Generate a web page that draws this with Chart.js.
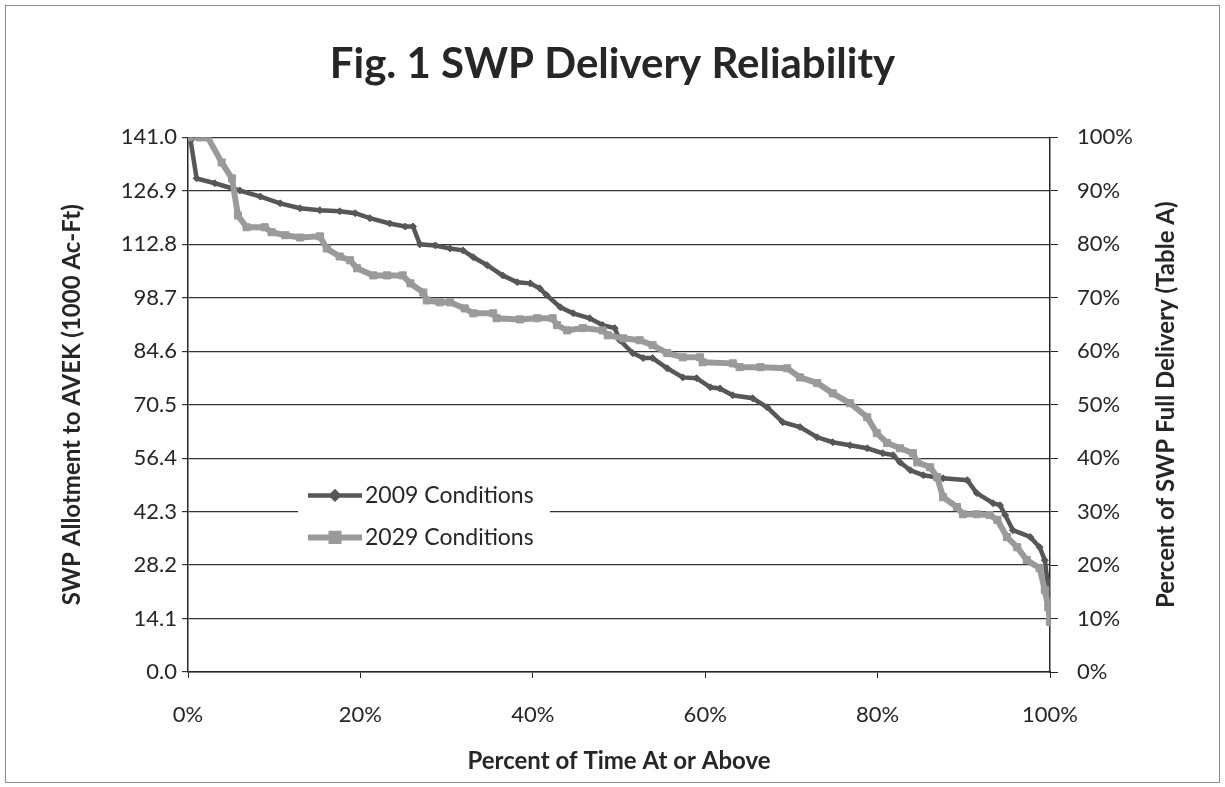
<!DOCTYPE html>
<html>
<head>
<meta charset="utf-8">
<title>Fig. 1 SWP Delivery Reliability</title>
<script src="https://cdn.jsdelivr.net/npm/chart.js@4.4.1/dist/chart.umd.min.js"></script>
<style>
  html, body { margin: 0; padding: 0; background: #fff; }
  #wrap { position: relative; width: 1225px; height: 787px; }
  #frame { position: absolute; left: 5px; top: 5px; width: 1213px; height: 776px; border: 1.5px solid #8c8c8c; pointer-events: none; }
</style>
</head>
<body>
<div id="wrap">
  <canvas id="chart" width="1225" height="787"></canvas>
  <div id="frame"></div>
</div>
<script>
// percent of time at or above (x) and SWP allotment in 1000 Ac-Ft (y)
const pct2009 = [0.3, 1.0, 3.1, 6.0, 8.4, 10.7, 13.0, 15.3, 17.6, 19.4,
  21.1, 23.4, 25.2, 26.1, 26.9, 28.7, 30.4, 31.9, 33.1, 34.7,
  36.5, 38.2, 39.7, 40.8, 41.6, 43.2, 44.7, 46.6, 48.1, 49.5,
  50.1, 51.6, 52.8, 53.9, 55.6, 57.4, 59.0, 60.6, 61.7, 63.2,
  65.5, 67.2, 69.0, 71.0, 73.0, 74.8, 76.8, 78.8, 80.6, 81.8,
  82.6, 83.8, 85.3, 87.6, 90.4, 91.5, 93.4, 94.2, 94.8, 95.7,
  97.7, 98.8, 99.4, 99.7, 100];
const val2009 = [140.2, 130.2, 128.9, 127.0, 125.4, 123.6, 122.3, 121.8, 121.5, 121.0,
  119.7, 118.3, 117.5, 117.5, 112.8, 112.5, 111.7, 111.2, 109.4, 107.3,
  104.6, 102.8, 102.5, 101.2, 99.4, 96.2, 94.6, 93.3, 91.5, 90.7,
  87.5, 84.1, 82.8, 82.8, 80.1, 77.7, 77.5, 75.1, 74.8, 73.0,
  72.2, 69.8, 65.9, 64.6, 61.9, 60.6, 59.8, 59.0, 57.7, 57.2,
  55.3, 53.2, 51.9, 51.1, 50.6, 47.2, 44.5, 44.0, 41.4, 37.4,
  35.6, 32.9, 29.5, 24.0, 13.2];

const pct2029 = [0, 1.4, 2.3, 3.9, 5.1, 5.8, 6.8, 8.9, 9.7, 11.3,
  13.0, 15.3, 16.1, 17.6, 18.8, 19.6, 21.5, 23.1, 24.9, 25.8,
  27.3, 27.7, 29.2, 30.4, 32.1, 33.1, 35.4, 35.8, 38.5, 40.5,
  42.3, 42.8, 44.0, 45.8, 48.1, 48.7, 50.5, 52.4, 53.9, 55.6,
  57.4, 59.4, 59.7, 63.2, 64.0, 66.4, 69.5, 71.0, 73.0, 74.8,
  76.8, 78.8, 79.9, 81.1, 82.6, 84.1, 84.6, 86.1, 86.9, 87.6,
  89.2, 89.9, 91.5, 93.0, 93.9, 95.0, 96.2, 97.3, 98.8, 99.4,
  99.8, 100];
const val2029 = [141.0, 141.0, 141.0, 134.4, 130.2, 120.4, 117.3, 117.3, 116.0, 115.2,
  114.6, 114.9, 111.7, 109.6, 108.6, 106.5, 104.6, 104.6, 104.6, 102.5,
  100.1, 98.0, 97.5, 97.5, 95.9, 94.6, 94.6, 93.3, 93.0, 93.3,
  93.3, 91.5, 90.1, 90.7, 90.1, 88.8, 88.0, 87.5, 86.2, 84.1,
  83.0, 83.0, 81.7, 81.4, 80.4, 80.4, 80.1, 77.7, 76.2, 73.5,
  70.9, 67.2, 63.0, 60.4, 59.0, 57.7, 55.3, 54.0, 51.4, 46.1,
  43.5, 41.6, 41.6, 41.4, 40.1, 35.6, 32.9, 29.5, 27.4, 21.6,
  17.1, 13.2];

const seriesNames = ['2009 Conditions', '2029 Conditions'];
const leftTicks = [0, 14.1, 28.2, 42.3, 56.4, 70.5, 84.6, 98.7, 112.8, 126.9, 141.0];
const rightTicks = [0, 10, 20, 30, 40, 50, 60, 70, 80, 90, 100];
const xTicks = [0, 20, 40, 60, 80, 100];
const rightTitle = 'Percent of SWP Full Delivery (Table A)';

const FONT = 'Lato, "Open Sans", sans-serif';
const INK = '#262626';
const DARK = '#575757';
const LIGHT = '#9a9a9a';

const toPoints = (xs, ys) => xs.map((x, i) => ({ x: x, y: ys[i] }));

// legend sits inside the plot area, like the Excel original;
// the right axis title reads bottom-to-top, so it is drawn here too
const extras = {
    id: 'extras',
    afterDatasetsDraw(chart) {
        const ctx = chart.ctx;
        const area = chart.chartArea;
        const x0 = area.left + 110;
        const y0 = area.top + 338;
        ctx.save();
        ctx.fillStyle = '#fff';
        ctx.fillRect(x0, y0, 252, 82);
        chart.data.datasets.forEach((ds, i) => {
            const y = y0 + 20 + i * 42;
            ctx.strokeStyle = ds.borderColor;
            ctx.lineWidth = ds.borderWidth;
            ctx.beginPath();
            ctx.moveTo(x0 + 10, y);
            ctx.lineTo(x0 + 64, y);
            ctx.stroke();
            Chart.helpers.drawPoint(ctx, {
                pointStyle: ds.pointStyle,
                radius: ds.pointRadius,
                borderWidth: 1
            }, x0 + 37, y);
            ctx.fillStyle = ds.borderColor;
            ctx.fill();
            ctx.fillStyle = INK;
            ctx.font = '23px ' + FONT;
            ctx.textBaseline = 'middle';
            ctx.textAlign = 'left';
            ctx.fillText(ds.label, x0 + 67, y);
        });
        ctx.translate(1166, (area.top + area.bottom) / 2);
        ctx.rotate(-Math.PI / 2);
        ctx.fillStyle = INK;
        ctx.font = 'bold 24px ' + FONT;
        ctx.textAlign = 'center';
        ctx.textBaseline = 'middle';
        ctx.fillText(rightTitle, 0, 0);
        ctx.restore();
    }
};

new Chart(document.getElementById('chart'), {
    type: 'line',
    data: {
        datasets: [{
            label: seriesNames[0],
            data: toPoints(pct2009, val2009),
            borderColor: DARK,
            backgroundColor: DARK,
            borderWidth: 4.5,
            pointStyle: 'rectRot',
            pointRadius: 3.5,
            pointBorderWidth: 1,
            tension: 0,
            order: 2,
            yAxisID: 'y'
        }, {
            label: seriesNames[1],
            data: toPoints(pct2029, val2029),
            borderColor: LIGHT,
            backgroundColor: LIGHT,
            borderWidth: 6,
            pointStyle: 'rect',
            pointRadius: 5,
            pointBorderWidth: 1,
            tension: 0,
            order: 1,
            yAxisID: 'y'
        }]
    },
    options: {
        responsive: false,
        animation: false,
        layout: { padding: { left: 10, right: 10, top: 0, bottom: 10 } },
        plugins: {
            legend: { display: false },
            tooltip: { enabled: false },
            title: {
                display: true,
                text: 'Fig. 1 SWP Delivery Reliability',
                color: INK,
                font: { family: FONT, size: 42, weight: 'bold' },
                padding: { top: 39, bottom: 48 }
            }
        },
        scales: {
            x: {
                type: 'linear',
                min: 0,
                max: 100,
                afterFit: s => { s.height = 105; },
                afterBuildTicks: s => { s.ticks = xTicks.map(v => ({ value: v })); },
                grid: { drawOnChartArea: false, tickLength: 6, color: INK },
                border: { color: INK, width: 1.5 },
                ticks: {
                    padding: 24,
                    color: INK,
                    font: { family: FONT, size: 22 },
                    callback: v => v + '%'
                },
                title: {
                    display: true,
                    text: 'Percent of Time At or Above',
                    color: INK,
                    font: { family: FONT, size: 24, weight: 'bold' },
                    padding: { top: 0, bottom: 1 }
                }
            },
            y: {
                position: 'left',
                min: 0,
                max: 141,
                afterFit: s => { s.width = 178; },
                afterBuildTicks: s => { s.ticks = leftTicks.map(v => ({ value: v })); },
                grid: { color: '#333', lineWidth: 1.2, tickLength: 6 },
                border: { color: INK, width: 1.5 },
                ticks: {
                    padding: 5,
                    color: INK,
                    font: { family: FONT, size: 22 },
                    callback: v => v.toFixed(1)
                },
                title: {
                    display: true,
                    text: 'SWP Allotment to AVEK (1000 Ac-Ft)',
                    color: INK,
                    font: { family: FONT, size: 24, weight: 'bold' },
                    padding: { top: 48, bottom: 0 }
                }
            },
            y2: {
                position: 'right',
                min: 0,
                max: 100,
                afterFit: s => { s.width = 165; },
                afterBuildTicks: s => { s.ticks = rightTicks.map(v => ({ value: v })); },
                grid: { drawOnChartArea: false, tickLength: 8, color: INK },
                border: { color: INK, width: 1.5 },
                ticks: {
                    padding: 19,
                    color: INK,
                    font: { family: FONT, size: 22 },
                    callback: v => v + '%'
                }
            }
        }
    },
    plugins: [extras]
});
</script>
</body>
</html>
